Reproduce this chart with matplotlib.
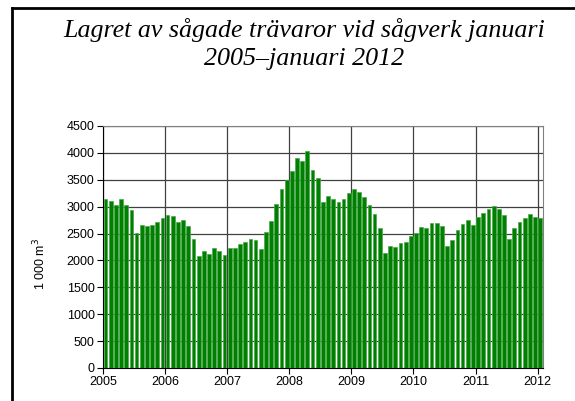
import matplotlib
matplotlib.use('Agg')
import matplotlib.pyplot as plt
import numpy as np
from matplotlib.lines import Line2D

# monthly stock, 1 000 m3, Jan 2005 - Jan 2012
y2005 = [3147, 3098, 3035, 3141, 3029, 2930, 2513, 2656, 2643, 2662, 2718, 2787]
y2006 = [2836, 2818, 2724, 2755, 2637, 2395, 2084, 2177, 2127, 2233, 2171, 2102]
y2007 = [2239, 2239, 2301, 2345, 2401, 2376, 2208, 2525, 2731, 3048, 3334, 3496]
y2008 = [3664, 3912, 3844, 4043, 3682, 3539, 3079, 3197, 3147, 3079, 3147, 3259]
y2009 = [3321, 3278, 3185, 3023, 2867, 2600, 2140, 2264, 2252, 2326, 2345, 2457]
y2010 = [2519, 2625, 2594, 2687, 2699, 2637, 2264, 2389, 2569, 2681, 2743, 2668]
y2011 = [2805, 2886, 2961, 3010, 2948, 2849, 2401, 2594, 2706, 2780, 2867, 2799]
y2012 = [2780]
years = ['2005', '2006', '2007', '2008', '2009', '2010', '2011', '2012']
yticks = [0, 500, 1000, 1500, 2000, 2500, 3000, 3500, 4000, 4500]

values = y2005 + y2006 + y2007 + y2008 + y2009 + y2010 + y2011 + y2012
xs = np.arange(len(values)) + 0.5

plt.rcParams['font.family'] = ['Liberation Sans', 'DejaVu Sans']
fig = plt.figure(figsize=(5.75, 4.01), dpi=100)
ax = fig.add_axes([0.179, 0.0823, 0.765, 0.6035])

ax.bar(xs, values, width=0.72, color='#008000', edgecolor='#4aa84a', linewidth=0.5, zorder=3)

ax.set_xlim(0, len(values))
ax.set_ylim(0, 4500)
ax.set_yticks(yticks)
ax.set_yticklabels([str(t) for t in yticks], fontsize=9)
ax.set_xticks(np.arange(len(years)) * 12)
ax.set_xticklabels(years, fontsize=9)
ax.grid(True, color='#404040', linewidth=0.9, zorder=0)
ax.tick_params(direction='out', length=4, width=0.8, colors='black', pad=2)
for s in ['top', 'right']:
    ax.spines[s].set_color('#808080')
for s in ['left', 'bottom']:
    ax.spines[s].set_color('black')

fig.text(0.069, 0.342, '1 000 m$^3$', rotation=90, fontsize=9, ha='center', va='center')

fig.text(0.529, 0.925, 'Lagret av sågade trävaror vid sågverk januari',
         family='Liberation Serif', style='italic', fontsize=18.7, ha='center', va='center')
fig.text(0.529, 0.853, '2005\u2013januari 2012',
         family='Liberation Serif', style='italic', fontsize=18.7, ha='center', va='center')

# outer frame (left and top edges only, as in the cropped original)
fig.add_artist(Line2D([12 / 575, 12 / 575], [0, 1 - 8 / 401], transform=fig.transFigure, color='black', linewidth=2))
fig.add_artist(Line2D([12 / 575, 1], [1 - 8 / 401, 1 - 8 / 401], transform=fig.transFigure, color='black', linewidth=2))

fig.savefig('out.png', dpi=100)
